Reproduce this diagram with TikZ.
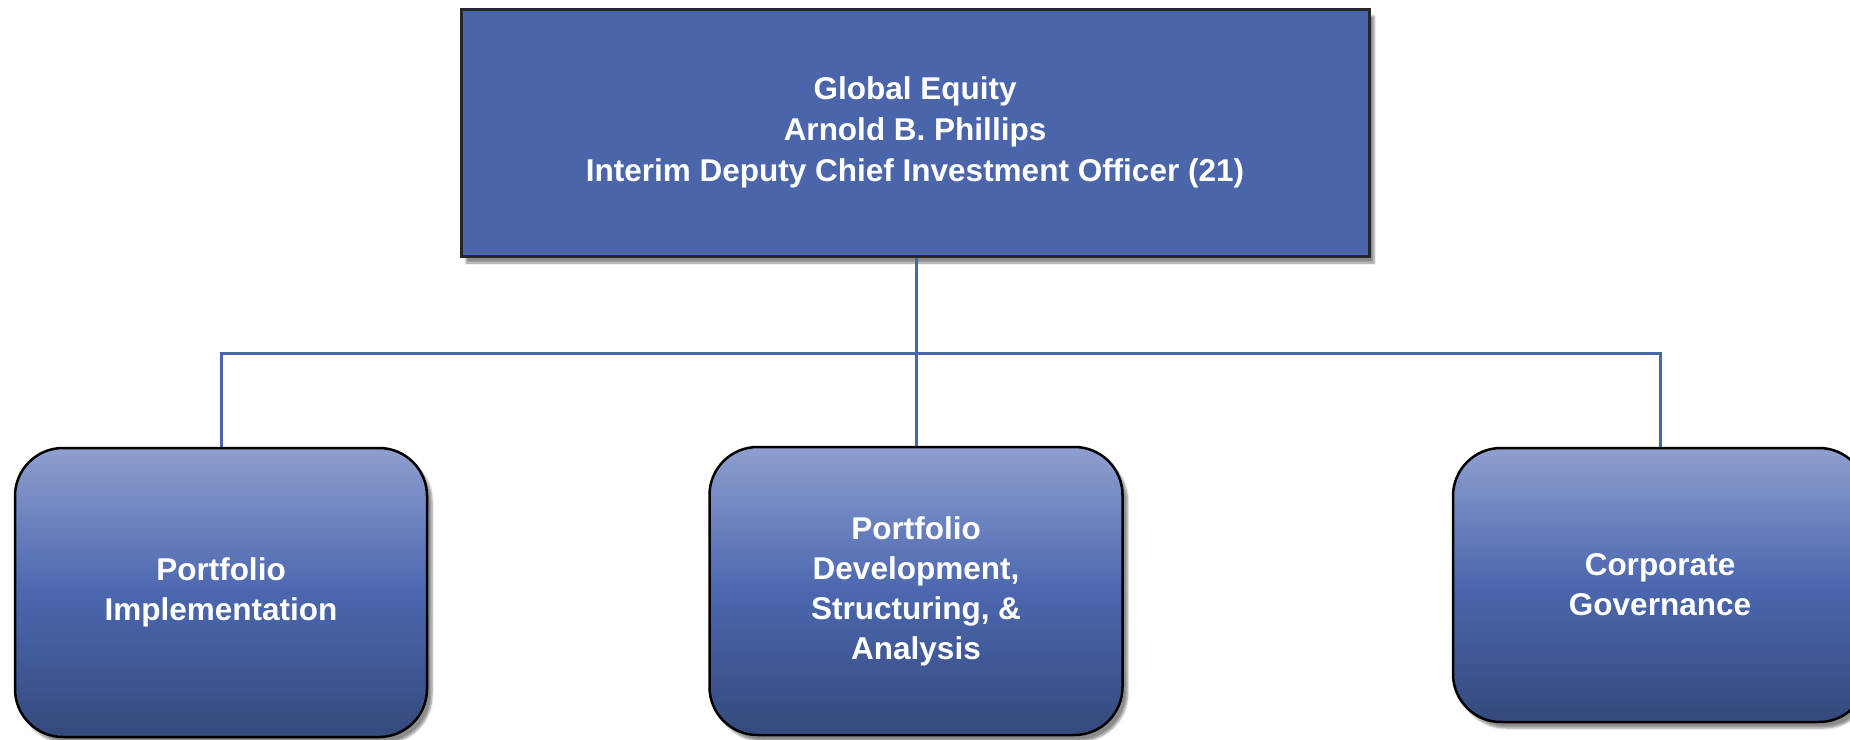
\documentclass[tikz,border=0pt]{standalone}
\usepackage{fontspec}
\setmainfont{Liberation Sans}
\usetikzlibrary{shadows.blur}
\definecolor{topfill}{HTML}{4A65A9}
\definecolor{gtop}{HTML}{8E9FCF}
\definecolor{gmid}{HTML}{4C67AF}
\definecolor{gbot}{HTML}{34497C}
\definecolor{linkc}{HTML}{4A65A9}
\tikzset{
  headbox/.style={draw=black!85, line width=3pt, fill=topfill, text=white,
    minimum width=908pt, minimum height=247pt, align=center,
    font=\fontsize{31.5}{41}\selectfont\bfseries,
    blur shadow={shadow xshift=5pt, shadow yshift=-7pt, shadow opacity=45, shadow blur steps=6}},
  unitbox/.style={draw=black, line width=2.5pt, rounded corners=48pt,
    top color=gtop, bottom color=gbot, middle color=gmid, text=white,
    minimum width=412pt, align=center,
    font=\fontsize{31.5}{40}\selectfont\bfseries,
    blur shadow={shadow xshift=5pt, shadow yshift=-6pt, shadow opacity=45, shadow blur steps=6}},
  link/.style={draw=linkc, line width=3pt}
}
\begin{document}
\begin{tikzpicture}[x=1pt,y=-1pt]
\useasboundingbox (0,0) rectangle (1850,739);
\node[headbox] (head) at (915,132.5) {Global Equity\\Arnold B. Phillips\\Interim Deputy Chief Investment Officer (21)};
\node[unitbox, minimum height=289pt] (impl) at (221,592.5) {Portfolio\\Implementation};
\node[unitbox, minimum height=288pt, minimum width=413pt] (dev) at (916,591) {Portfolio\\Development,\\Structuring, \&\\Analysis};
\node[unitbox, minimum height=274pt, minimum width=414pt] (gov) at (1660,585) {Corporate\\Governance};
\coordinate (bus) at (916,353);
\draw[link] (head.south -| dev.north) -- (dev.north);
\draw[link] (impl.north) |- (bus) -| (gov.north);
\end{tikzpicture}
\end{document}
